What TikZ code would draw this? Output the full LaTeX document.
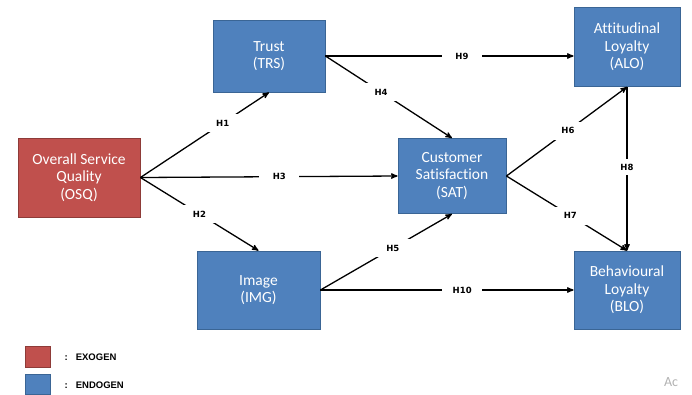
\documentclass[tikz,border=0pt]{standalone}
\usepackage{fontspec}
\setmainfont{Carlito}[Ligatures=NoCommon]
\newfontfamily\labelfont{DejaVu Sans}
\newfontfamily\keyfont{Liberation Sans}
\usepackage{tikz}
\usetikzlibrary{arrows,positioning}
\definecolor{endoblue}{HTML}{4F81BD}
\definecolor{endoline}{HTML}{3A6595}
\definecolor{exored}{HTML}{C0504D}
\definecolor{exoline}{HTML}{8E3B38}
\tikzset{var/.style={draw=endoline,fill=endoblue,line width=0.9pt,text=white,align=center,inner sep=0pt,font=\fontsize{15.5}{17.5}\selectfont},
exo/.style={var,draw=exoline,fill=exored},
hyp/.style={fill=white,inner sep=0pt,minimum width=40pt,minimum height=18pt,font=\labelfont\fontsize{8.5}{9}\selectfont\bfseries},
keytext/.style={anchor=west,inner sep=0pt,font=\keyfont\fontsize{9.5}{10}\selectfont\bfseries}}

\begin{document}
\begin{tikzpicture}[->, >=stealth', x=1pt, y=-1pt, line width=1.3pt]
\useasboundingbox (0,0) rectangle (692,394);
    \node[exo,minimum width=122pt,minimum height=79pt] (OSQ) at (79,177.5) {Overall Service\\Quality\\(OSQ)};
    \node[var,minimum width=112pt,minimum height=72pt] (TRS) at (269,56) {Trust\\(TRS)};
    \node[var,minimum width=123pt,minimum height=78pt] (IMG) at (258.5,290) {Image\\(IMG)};
    \node[var,minimum width=108pt,minimum height=75pt] (SAT) at (452,176) {Customer\\Satisfaction\\(SAT)};
    \node[var,minimum width=106pt,minimum height=79pt] (ALO) at (627,47) {Attitudinal\\Loyalty\\(ALO)};
    \node[var,minimum width=106pt,minimum height=78pt] (BLO) at (627,290) {Behavioural\\Loyalty\\(BLO)};

    \path (OSQ.east) edge node[hyp,pos=0.64] {H1} (TRS.south);
    \path (OSQ.east) edge node[hyp,pos=0.5] {H2} (IMG.north);
    \path (OSQ.east) edge node[hyp,pos=0.54] {H3} (SAT.west);
    \path (TRS.east) edge node[hyp,pos=0.44] {H4} (SAT.north);
    \path (TRS.east) edge node[hyp,pos=0.55] {H9} (TRS.east -| ALO.west);
    \path (IMG.east) edge node[hyp,pos=0.55] {H5} (SAT.south);
    \path (IMG.east) edge node[hyp,pos=0.56] {H10} (BLO.west);
    \path (SAT.east) edge node[hyp,pos=0.51] {H6} (ALO.south);
    \path (SAT.east) edge node[hyp,pos=0.53] {H7} (BLO.north);
    \path (ALO.south) edge node[hyp,pos=0.49,minimum height=16pt] {H8} (BLO.north);

    % legend
    \node[exo,minimum width=25pt,minimum height=21pt] (exokey) at (37.5,356.5) {};
    \node[var,minimum width=25pt,minimum height=20pt] (endokey) at (37.5,384) {};
    \node[keytext] (exotext) at (64,357) {:\hspace{8pt}EXOGEN};
    \node[keytext] (endotext) at (64,385) {:\hspace{8pt}ENDOGEN};
    \node[text=black!30,font=\fontsize{14}{15}\selectfont] (mark) at (671,382) {Ac};
\end{tikzpicture}
\end{document}
